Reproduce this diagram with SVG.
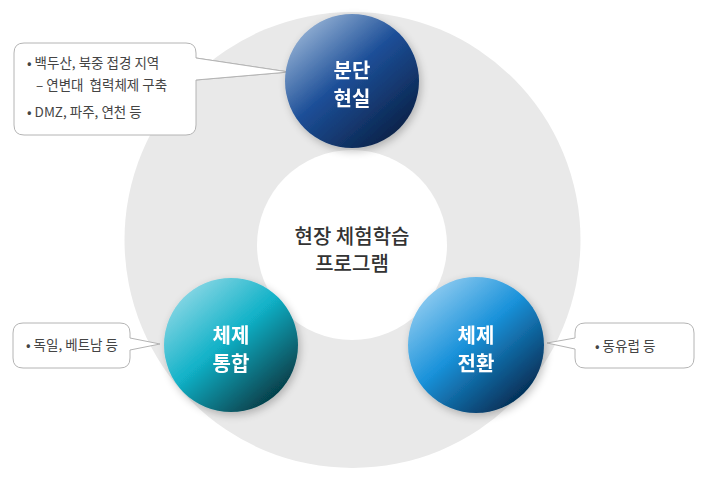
<svg xmlns="http://www.w3.org/2000/svg" width="708" height="485" viewBox="0 0 708 485">
<defs>
<style>
.callout{fill:#fff;stroke:#b4b4b4;stroke-width:1}
.ctext{font-family:"Noto Sans CJK KR","Noto Sans",sans-serif;font-size:13.5px;fill:#444}
.label{font-family:"Noto Sans CJK KR","Noto Sans",sans-serif;font-size:20px;font-weight:bold;fill:#fff;text-anchor:middle}
.center{font-family:"Noto Sans CJK KR","Noto Sans",sans-serif;font-size:20px;font-weight:500;fill:#333;text-anchor:middle}
</style>
<linearGradient id="gTop" x1="0.15" y1="0.1" x2="0.85" y2="0.9">
<stop offset="0" stop-color="#8fadd2"/>
<stop offset="0.45" stop-color="#1d4f98"/>
<stop offset="1" stop-color="#0a2248"/>
</linearGradient>
<linearGradient id="gLeft" x1="0.15" y1="0.1" x2="0.85" y2="0.9">
<stop offset="0" stop-color="#86d6e4"/>
<stop offset="0.45" stop-color="#12b2c8"/>
<stop offset="1" stop-color="#053a44"/>
</linearGradient>
<linearGradient id="gRight" x1="0.15" y1="0.1" x2="0.85" y2="0.9">
<stop offset="0" stop-color="#8ccaf0"/>
<stop offset="0.45" stop-color="#1a92da"/>
<stop offset="1" stop-color="#042c52"/>
</linearGradient>
<filter id="sh" x="-30%" y="-30%" width="160%" height="160%">
<feGaussianBlur in="SourceAlpha" stdDeviation="4"/>
<feOffset dx="2" dy="3" result="b"/>
<feComponentTransfer><feFuncA type="linear" slope="0.25"/></feComponentTransfer>
<feMerge><feMergeNode/><feMergeNode in="SourceGraphic"/></feMerge>
</filter>
</defs>
<rect width="708" height="485" fill="#fff"/>
<g id="ring">
<circle cx="352.5" cy="240" r="228" fill="#e9e9e9"/>
<circle cx="352" cy="245" r="95" fill="#fff"/>
</g>
<g id="center-label">
<text class="center" x="352" y="244">현장 체험학습</text>
<text class="center" x="352" y="271">프로그램</text>
</g>
<g id="connectors">
<path class="callout" d="M196,58 L289,72 L196,80" fill="none"/>
</g>
<g id="callout-top">
<path class="callout" d="M24,43 H186 Q196,43 196,53 V58 L289,72 L196,80 V125 Q196,135 186,135 H24 Q14,135 14,125 V53 Q14,43 24,43 Z"/>
<text class="ctext" x="27" y="68">• 백두산, 북중 접경 지역</text>
<text class="ctext" x="36" y="90">– 연변대&#160; 협력체제 구축</text>
<text class="ctext" x="27" y="117">• DMZ, 파주, 연천 등</text>
</g>
<g id="callout-left">
<path class="callout" d="M23,323 H120 Q130,323 130,333 V338 L160,344 L130,350 V358 Q130,368 120,368 H23 Q13,368 13,358 V333 Q13,323 23,323 Z"/>
<text class="ctext" x="26" y="350">• 독일, 베트남 등</text>
</g>
<g id="callout-right">
<path class="callout" d="M585,323 H684 Q694,323 694,333 V358 Q694,368 684,368 H585 Q575,368 575,358 V349 L547,343 L575,338 V333 Q575,323 585,323 Z"/>
<text class="ctext" x="595" y="351">• 동유럽 등</text>
</g>
<g id="node-top" filter="url(#sh)">
<circle cx="352" cy="81" r="67" fill="url(#gTop)"/>
<text class="label" x="352" y="78">분단</text>
<text class="label" x="352" y="106">현실</text>
</g>
<g id="node-left" filter="url(#sh)">
<circle cx="231" cy="345" r="67" fill="url(#gLeft)"/>
<text class="label" x="231" y="343">체제</text>
<text class="label" x="231" y="371">통합</text>
</g>
<g id="node-right" filter="url(#sh)">
<circle cx="476" cy="345" r="68" fill="url(#gRight)"/>
<text class="label" x="476" y="343">체제</text>
<text class="label" x="476" y="371">전환</text>
</g>
</svg>
